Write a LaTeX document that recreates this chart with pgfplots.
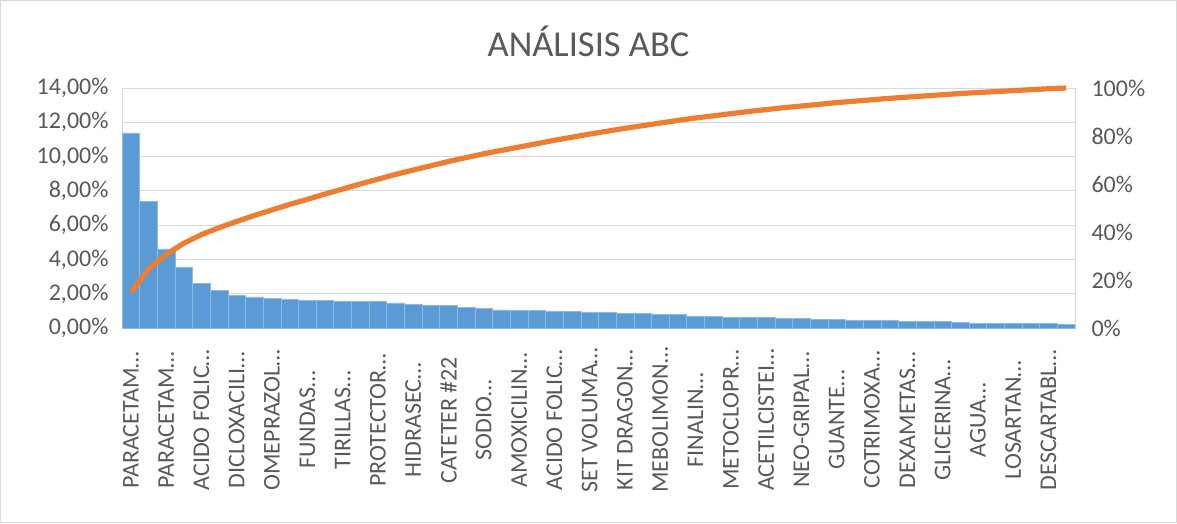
\documentclass[border=0pt]{standalone}
\usepackage{pgfplots}
\pgfplotsset{compat=1.18}
\usepackage{pgfplotstable}
\usepackage{fontspec}
\setmainfont{Carlito}
\definecolor{barblue}{HTML}{5B9BD5}
\definecolor{baredge}{HTML}{8DB9E3}
\definecolor{lineorange}{HTML}{ED7D31}
\definecolor{txtgray}{HTML}{595959}
\definecolor{gridgray}{HTML}{D9D9D9}
\pgfplotstableread{
x y
0 11.38
1 7.38
2 4.62
3 3.57
4 2.61
5 2.18
6 1.89
7 1.82
8 1.74
9 1.68
10 1.62
11 1.60
12 1.57
13 1.57
14 1.55
15 1.47
16 1.39
17 1.32
18 1.32
19 1.22
20 1.14
21 1.06
22 1.04
23 1.04
24 1.00
25 0.97
26 0.93
27 0.89
28 0.87
29 0.85
30 0.81
31 0.79
32 0.71
33 0.70
34 0.64
35 0.62
36 0.60
37 0.58
38 0.54
39 0.50
40 0.50
41 0.46
42 0.44
43 0.44
44 0.39
45 0.39
46 0.39
47 0.33
48 0.29
49 0.27
50 0.25
51 0.25
52 0.25
53 0.23
}\bars
\pgfplotstableread{
x y
0 14.8
1 24.6
2 30.6
3 35.3
4 38.9
5 41.8
6 44.4
7 46.9
8 49.2
9 51.5
10 53.6
11 55.8
12 57.9
13 60.0
14 62.0
15 64.0
16 65.8
17 67.6
18 69.4
19 71.0
20 72.6
21 74.0
22 75.4
23 76.8
24 78.2
25 79.5
26 80.8
27 82.0
28 83.2
29 84.3
30 85.4
31 86.5
32 87.5
33 88.4
34 89.3
35 90.2
36 91.0
37 91.8
38 92.5
39 93.2
40 93.9
41 94.5
42 95.1
43 95.7
44 96.2
45 96.7
46 97.2
47 97.7
48 98.1
49 98.5
50 98.9
51 99.3
52 99.7
53 100.0
}\cumul
\begin{document}
\begin{tikzpicture}[x=1pt,y=1pt]
\useasboundingbox (0,0) rectangle (1177,523);
\fill[white] (0,0) rectangle (1177,523);
\draw[gridgray, line width=1pt] (0.5,0.5) rectangle (1176.5,522.5);
\node[anchor=base, text=txtgray, font=\fontsize{36.5}{40}\selectfont] at (588.5,466) {ANÁLISIS ABC};
\begin{axis}[
  at={(122pt,195pt)}, anchor=south west,
  scale only axis, width=953pt, height=240pt,
  xmin=-0.5, xmax=53.5, ymin=0, ymax=14,
  ytick={0,2,...,14},
  yticklabels={{0,00\%},{2,00\%},{4,00\%},{6,00\%},{8,00\%},{10,00\%},{12,00\%},{14,00\%}},
  xtick={0,2,...,52},
  xticklabels={PARACETAM…,PARACETAM…,ACIDO FOLIC…,DICLOXACILI…,OMEPRAZOL…,FUNDAS…,TIRILLAS…,PROTECTOR…,HIDRASEC…,CATETER \#22,SODIO…,AMOXICILIN…,ACIDO FOLIC…,SET VOLUMA…,KIT DRAGON…,MEBOLIMON…,FINALIN…,METOCLOPR…,ACETILCISTEI…,NEO-GRIPAL…,GUANTE…,COTRIMOXA…,DEXAMETAS…,GLICERINA…,AGUA…,LOSARTAN…,DESCARTABL…},
  ymajorgrids, grid style={gridgray, line width=1pt},
  axis line style={gridgray, line width=1pt},
  major tick length=0pt,
  tick label style={text=txtgray, font=\fontsize{24}{27}\selectfont},
  yticklabel style={xshift=-10pt},
  xticklabel style={rotate=90, anchor=center, xshift=-92pt},
]
\addplot[ybar, bar width=1, fill=barblue, draw=baredge, line width=0.6pt] table[x=x,y=y] {\bars};
\end{axis}
\begin{axis}[
  at={(122pt,195pt)}, anchor=south west,
  scale only axis, width=953pt, height=240pt,
  xmin=-0.5, xmax=53.5, ymin=0, ymax=100,
  axis x line=none, axis y line*=right,
  y axis line style={draw=none},
  ytick={0,20,...,100},
  yticklabels={0\%,20\%,40\%,60\%,80\%,100\%},
  major tick length=0pt,
  tick label style={text=txtgray, font=\fontsize{24}{27}\selectfont},
  yticklabel style={xshift=13pt},
  clip=false,
]
\addplot[lineorange, line width=5.2pt, line join=round] table[x=x,y=y] {\cumul};
\end{axis}
\end{tikzpicture}
\end{document}
